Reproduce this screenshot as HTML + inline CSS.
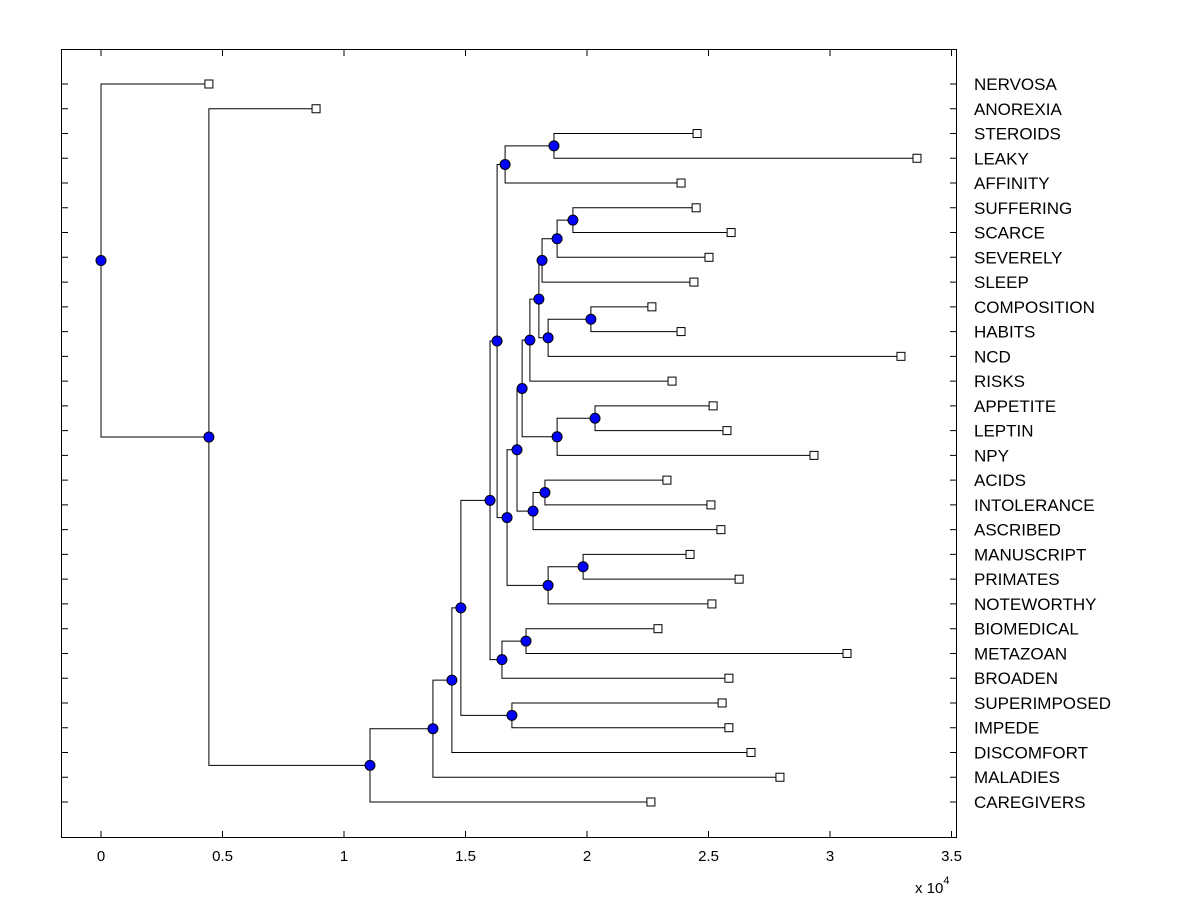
<!DOCTYPE html>
<html><head><meta charset="utf-8"><style>
body{margin:0;background:#fff;}
svg{display:block;font-family:"Liberation Sans",Arial,sans-serif;}
</style></head><body>
<svg id="chart" width="1200" height="900" viewBox="0 0 1200 900">
<rect x="0" y="0" width="1200" height="900" fill="#fff"/>
<g id="marks"></g>
<rect x="61.5" y="49.5" width="895" height="788" fill="none" stroke="#000" stroke-width="1"/>
<g id="axes"></g>
<text x="915" y="893" font-size="15">x 10<tspan dy="-9" font-size="11">4</tspan></text>
</svg>
<script>
const leafNames = ["NERVOSA","ANOREXIA","STEROIDS","LEAKY","AFFINITY","SUFFERING","SCARCE","SEVERELY","SLEEP","COMPOSITION","HABITS","NCD","RISKS","APPETITE","LEPTIN","NPY","ACIDS","INTOLERANCE","ASCRIBED","MANUSCRIPT","PRIMATES","NOTEWORTHY","BIOMEDICAL","METAZOAN","BROADEN","SUPERIMPOSED","IMPEDE","DISCOMFORT","MALADIES","CAREGIVERS"];
const leafValues = [4440,8850,24530,33580,23870,24490,25930,25020,24400,22670,23870,32920,23500,25190,25760,29340,23290,25100,25510,24240,26260,25140,22920,30700,25840,25560,25840,26750,27940,22630];
// internal nodes: name, value, left child, right child
const nodeNames = ["root","A","B","C","D","E","F","G","H","I","J","K","L","M","N","O","P","Q","R","S","T","U","V","W","X","Y","Z","AA","AB"];
const nodeValues = [0,4440,11070,13660,14440,14810,16010,16910,16300,16500,17490,16630,16710,18640,17120,18400,19840,17330,17780,18270,17650,18770,20330,18020,18150,18400,20160,18770,19420];
const nodeLeft = ["NERVOSA","ANOREXIA","C","D","E","F","H","SUPERIMPOSED","K","J","BIOMEDICAL","M","N","STEROIDS","Q","P","MANUSCRIPT","T","S","ACIDS","W","V","APPETITE","X","AA","Z","COMPOSITION","AB","SUFFERING"];
const nodeRight = ["A","B","CAREGIVERS","MALADIES","DISCOMFORT","G","I","IMPEDE","L","BROADEN","METAZOAN","AFFINITY","O","LEAKY","R","NOTEWORTHY","PRIMATES","U","ASCRIBED","INTOLERANCE","RISKS","NPY","LEPTIN","Y","SLEEP","NCD","HABITS","SEVERELY","SCARCE"];
const xTicks = [0,0.5,1,1.5,2,2.5,3,3.5];
const xTickLabels = ["0","0.5","1","1.5","2","2.5","3","3.5"];

const NS="http://www.w3.org/2000/svg";
const xs = v => 101 + 243*(v/10000);
const rowY = i => 84 + i*(718/29);
const marks=document.getElementById('marks'), axes=document.getElementById('axes');
function mk(tag, attrs, parent){const e=document.createElementNS(NS,tag);for(const k in attrs)e.setAttribute(k,attrs[k]);parent.appendChild(e);return e;}

const pos={};
leafNames.forEach((n,i)=>{pos[n]={x:xs(leafValues[i]),y:rowY(i),leaf:true};});
function resolve(n){
  if(pos[n])return pos[n];
  const i=nodeNames.indexOf(n);
  const l=resolve(nodeLeft[i]), r=resolve(nodeRight[i]);
  pos[n]={x:xs(nodeValues[i]),y:(l.y+r.y)/2,leaf:false};
  return pos[n];
}
nodeNames.forEach(resolve);
nodeNames.forEach((n,i)=>{
  const p=pos[n], l=pos[nodeLeft[i]], r=pos[nodeRight[i]];
  const path=mk('path',{d:`M${l.x},${l.y}H${p.x}V${r.y}H${r.x}`,fill:'none',stroke:'#000','stroke-width':1},marks);
  
  
});
leafNames.forEach((n,i)=>{
  const p=pos[n];
  const s=mk('rect',{x:p.x-4,y:p.y-4,width:8,height:8,fill:'#fff',stroke:'#000','stroke-width':1},marks);
  
  
  const t=mk('text',{x:974,y:p.y+6,'font-size':17},axes);
  t.textContent=n;
  
  
  const tk=mk('path',{d:`M62,${p.y}H68M956,${p.y}H950`,stroke:'#000','stroke-width':1},axes);
  
  
});
nodeNames.forEach(n=>{
  const p=pos[n];
  const c=mk('circle',{cx:p.x,cy:p.y,r:5,fill:'#0000ff',stroke:'#000','stroke-width':1},marks);
  
  
});
xTicks.forEach((v,i)=>{
  const x=xs(v*10000);
  const tk=mk('path',{d:`M${x},837V831M${x},50V56`,stroke:'#000','stroke-width':1},axes);
  
  
  const t=mk('text',{x:x,y:861,'font-size':15,'text-anchor':'middle'},axes);
  t.textContent=xTickLabels[i];
  
  
});
</script>
</body></html>
